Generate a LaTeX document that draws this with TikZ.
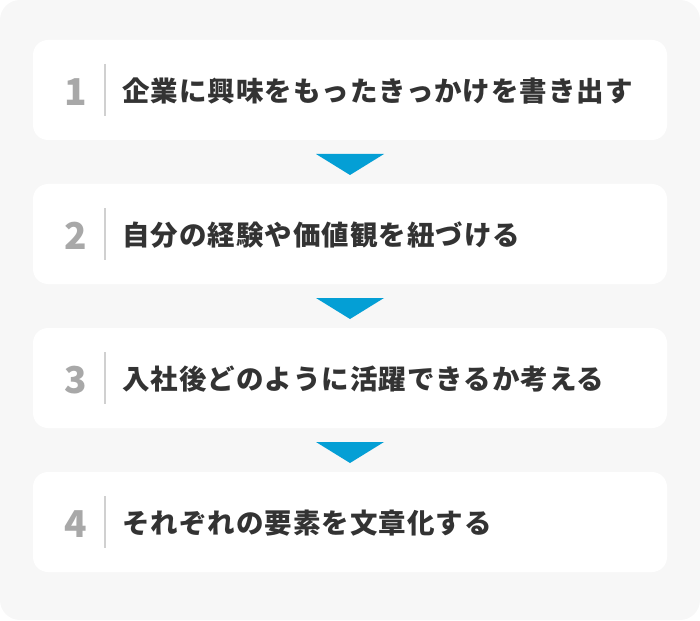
\documentclass[tikz,border=0pt]{standalone}
\usepackage{fontspec}
\newfontfamily\jp[LetterSpace=3.6]{Noto Sans CJK JP}
\newfontfamily\jpnum{Noto Sans CJK JP}
\definecolor{bgc}{HTML}{F7F7F7}
\definecolor{txtc}{HTML}{333333}
\definecolor{numc}{HTML}{A8A8A8}
\definecolor{divc}{HTML}{D0D0D0}
\definecolor{triblue}{HTML}{049FD5}
\begin{document}
\begin{tikzpicture}[x=1pt,y=-1pt,
  stepbox/.style={fill=white,rounded corners=15pt},
  numlabel/.style={anchor=center,inner sep=0pt,text=numc,font=\jpnum\bfseries\fontsize{37}{37}\selectfont},
  steptext/.style={anchor=west,inner sep=0pt,text=txtc,font=\jp\bfseries\fontsize{27.5}{27.5}\selectfont},
  divline/.style={draw=divc,line width=2pt},
  tri/.style={fill=triblue}]
\useasboundingbox (0,0) rectangle (700,620);
\fill[bgc,rounded corners=20pt] (0,0) rectangle (700,620);
\foreach \i/\t in {1/企業に興味をもったきっかけを書き出す,2/自分の経験や価値観を紐づける,3/入社後どのように活躍できるか考える,4/それぞれの要素を文章化する}{
  \pgfmathsetmacro\cy{90+144*(\i-1)}
  \fill[stepbox] (33,\cy-50) rectangle (667,\cy+50);
  \node[numlabel] (n\i) at (76,\cy+2) {\i};
  \coordinate (dt\i) at (105,\cy-26);
  \coordinate (db\i) at (105,\cy+26);
  \draw[divline] (dt\i) -- (db\i);
  \node[steptext] (t\i) at (122,\cy+1) {\t};
}
\foreach \i in {1,2,3}{
  \pgfmathsetmacro\ty{154+144*(\i-1)}
  \fill[tri] (316,\ty) -- (384,\ty) -- (350,\ty+21) -- cycle;
}
\end{tikzpicture}
\end{document}
